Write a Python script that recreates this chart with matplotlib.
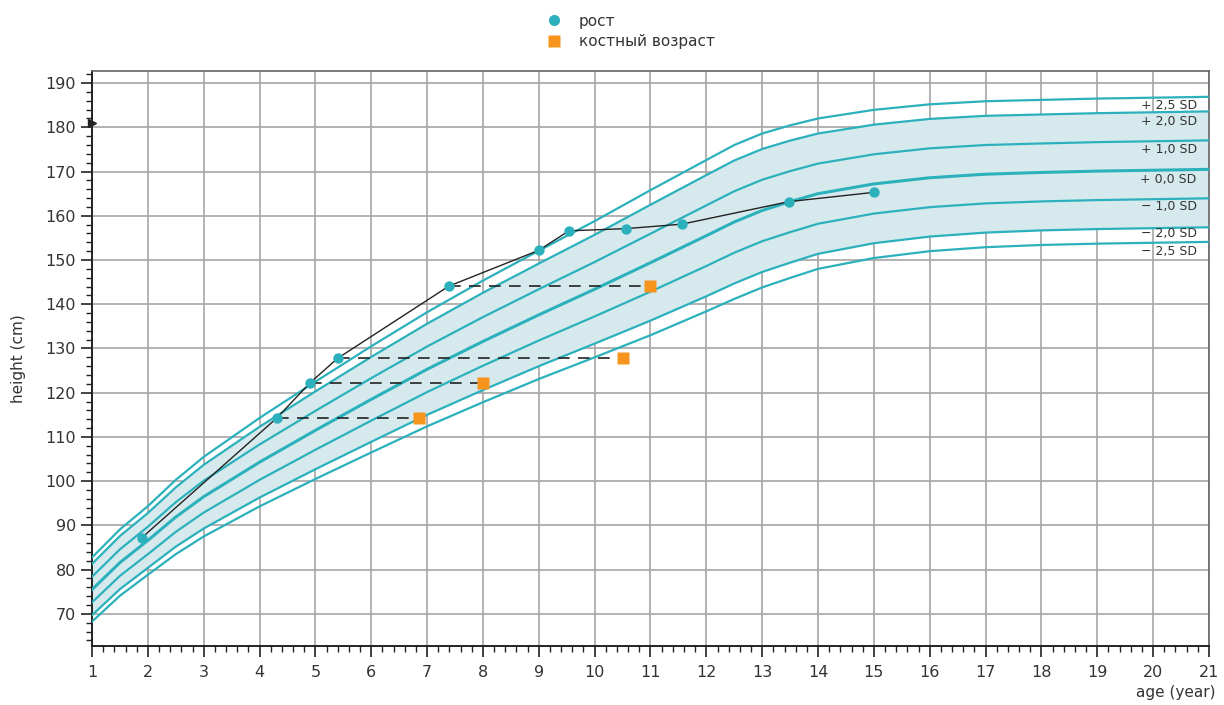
import matplotlib
matplotlib.use("Agg")
import matplotlib.pyplot as plt
from matplotlib.lines import Line2D
from matplotlib.ticker import MultipleLocator

# ---------------- data ----------------
ages = [1, 1.5, 2, 2.5, 3, 4, 5, 6, 7, 8, 9, 10, 11, 12, 12.5, 13, 13.5, 14, 15, 16, 17, 18, 19, 20, 21]

sd_p25 = [82.75, 89.1, 94.35, 100.3, 105.5, 114.3, 122.5, 130.5, 138.2, 145.35, 152.1, 158.8, 165.8, 172.6, 176.0, 178.6, 180.45, 182.0, 183.95, 185.2, 185.9, 186.2, 186.5, 186.7, 186.9]
sd_p20 = [81.3, 87.6, 92.8, 98.6, 103.7, 112.3, 120.3, 128.1, 135.6, 142.6, 149.2, 155.7, 162.5, 169.2, 172.5, 175.1, 177.0, 178.6, 180.6, 181.9, 182.6, 182.9, 183.2, 183.4, 183.6]
sd_p10 = [78.4, 84.6, 89.7, 95.25, 100.1, 108.3, 115.9, 123.3, 130.45, 137.1, 143.4, 149.55, 155.95, 162.35, 165.55, 168.15, 170.1, 171.8, 173.9, 175.25, 176.0, 176.35, 176.65, 176.85, 177.05]
sd_00 = [75.5, 81.6, 86.6, 91.9, 96.5, 104.3, 111.5, 118.5, 125.3, 131.6, 137.6, 143.4, 149.4, 155.5, 158.6, 161.2, 163.2, 165.0, 167.2, 168.6, 169.4, 169.8, 170.1, 170.3, 170.5]
sd_m10 = [72.6, 78.6, 83.5, 88.55, 92.9, 100.3, 107.1, 113.7, 120.15, 126.1, 131.8, 137.25, 142.85, 148.65, 151.65, 154.25, 156.3, 158.2, 160.5, 161.95, 162.8, 163.25, 163.55, 163.75, 163.95]
sd_m20 = [69.7, 75.6, 80.4, 85.2, 89.3, 96.3, 102.7, 108.9, 115.0, 120.6, 126.0, 131.1, 136.3, 141.8, 144.7, 147.3, 149.4, 151.4, 153.8, 155.3, 156.2, 156.7, 157.0, 157.2, 157.4]
sd_m25 = [68.25, 74.1, 78.85, 83.5, 87.5, 94.3, 100.5, 106.5, 112.4, 117.85, 123.1, 128.0, 133.0, 138.4, 141.2, 143.8, 145.95, 148.0, 150.45, 152.0, 152.9, 153.4, 153.7, 153.9, 154.1]

sd_labels = ["+ 2,5 SD", "+ 2,0 SD", "+ 1,0 SD", "+ 0,0 SD", "\u2212 1,0 SD", "\u2212 2,0 SD", "\u2212 2,5 SD"]
sd_label_heights = [185.0, 181.4, 174.9, 168.3, 162.0, 156.1, 152.0]

patient_age = [1.89, 4.31, 4.90, 5.40, 7.39, 9.0, 9.54, 10.56, 11.56, 13.48, 15.0]
patient_height = [87.2, 114.3, 122.2, 127.8, 144.1, 152.2, 156.6, 157.1, 158.1, 163.2, 165.3]

bone_age = [6.85, 8.0, 10.5, 11.0]
bone_height = [114.3, 122.2, 127.8, 144.1]
bone_from_age = [4.31, 4.90, 5.40, 7.39]

target_height = 181.0

x_ticks = list(range(1, 22))
y_ticks = list(range(70, 191, 10))

# ---------------- style ----------------
TEAL = "#2cb1bc"
SHADE = "#d6eaee"
ORANGE = "#f7941d"
TXT = "#333333"
GRID = "#a6a6a6"

plt.rcParams['font.family'] = ['DejaVu Sans']

fig = plt.figure(figsize=(12.24, 7.05), dpi=100)
ax = fig.add_axes([0.0752, 0.0841, 0.9125, 0.8156])

ax.fill_between(ages, sd_m20, sd_p20, color=SHADE, lw=0, zorder=1)
ax.grid(True, which='major', color=GRID, lw=1.2, zorder=0)
ax.set_axisbelow(True)

for curve, lw in [(sd_p25, 1.6), (sd_p20, 1.6), (sd_p10, 1.6), (sd_00, 2.2),
                  (sd_m10, 1.6), (sd_m20, 1.6), (sd_m25, 1.6)]:
    ax.plot(ages, curve, color=TEAL, lw=lw, zorder=3, solid_joinstyle='round')

for lab, h in zip(sd_labels, sd_label_heights):
    ax.text(20.78, h, lab, ha='right', va='center', fontsize=9, color=TXT, zorder=4)

# dashed lines to bone age
for a0, a1, h in zip(bone_from_age, bone_age, bone_height):
    ax.plot([a0, a1], [h, h], color="#222222", lw=1.2, dashes=(7, 5), zorder=4)

ax.plot(patient_age, patient_height, color="#222222", lw=1.0, zorder=5)
ax.plot(patient_age, patient_height, 'o', color=TEAL, ms=7.5, mec='none', zorder=6)
ax.plot(bone_age, bone_height, 's', color=ORANGE, ms=9, mec='none', zorder=6)

ax.plot([1], [target_height], '>', color="#222222", ms=6, clip_on=False, zorder=7)

ax.set_xlim(1, 21)
ax.set_ylim(62.8, 192.8)
ax.set_xticks(x_ticks)
ax.set_yticks(y_ticks)
ax.xaxis.set_minor_locator(MultipleLocator(0.2))
ax.yaxis.set_minor_locator(MultipleLocator(2))
ax.tick_params(axis='both', which='major', direction='out', length=8, width=1.2,
               colors="#222222", labelcolor=TXT, labelsize=11.5)
ax.tick_params(axis='both', which='minor', direction='out', length=4.5, width=1.0, colors="#222222")
ax.tick_params(axis='x', pad=6)

for side in ['left', 'bottom']:
    ax.spines[side].set_color("#222222")
    ax.spines[side].set_linewidth(1.4)
for side in ['top', 'right']:
    ax.spines[side].set_color("#666666")
    ax.spines[side].set_linewidth(1.2)

ax.set_ylabel("height (cm)", fontsize=11, color=TXT, labelpad=14)
ax.text(1.006, -0.068, "age (year)", transform=ax.transAxes, ha='right', va='top',
        fontsize=11, color=TXT)

handles = [Line2D([], [], marker='o', ls='none', color=TEAL, ms=8, mec='none'),
           Line2D([], [], marker='s', ls='none', color=ORANGE, ms=9, mec='none')]
fig.legend(handles, ["рост", "костный возраст"], loc='upper center',
           bbox_to_anchor=(0.512, 1.0), frameon=False, fontsize=11,
           labelcolor=TXT, handletextpad=0.6, labelspacing=0.35)

fig.savefig("out.png", dpi=100)
